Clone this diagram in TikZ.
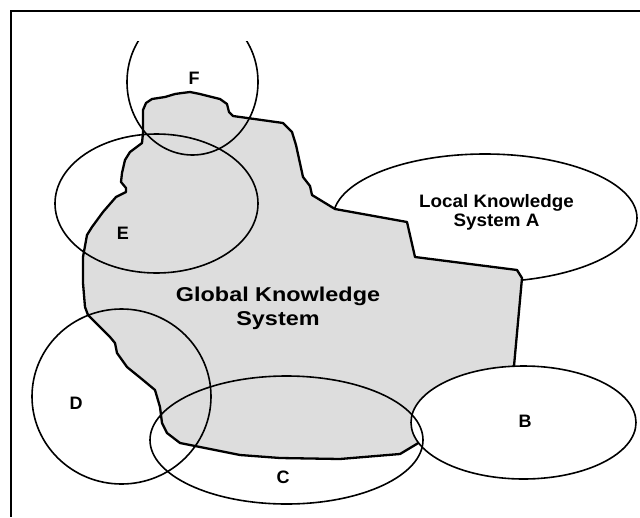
\documentclass[tikz,border=0pt]{standalone}
\usepackage{fontspec}
\setmainfont{Liberation Sans}
\usetikzlibrary{shapes.geometric}
\definecolor{blobgray}{RGB}{221,221,221}
\tikzset{
  ring/.style={draw=black, line width=1.6pt},
  blobline/.style={draw=black, fill=blobgray, line width=2.3pt, line join=round},
  lbl/.style={inner sep=0pt, font=\bfseries\fontsize{18}{18}\selectfont},
  biglbl/.style={inner sep=0pt, align=center, font=\bfseries\fontsize{20}{24}\selectfont},
  midlbl/.style={inner sep=0pt, align=center, font=\bfseries\fontsize{18}{19}\selectfont},
}
\begin{document}
\begin{tikzpicture}[x=1pt,y=-1pt]
\useasboundingbox (0,0) rectangle (640,517);
% frame
\draw[line width=2pt] (10,11) -- (640,11);
\draw[line width=1.2pt] (11,11) -- (11,517);
% Local system A (partly hidden by the blob)
\draw[ring] (485,218) ellipse [x radius=152, y radius=64];
% global knowledge blob
\draw[blobline] (143,133) -- (143,110) -- (146,103) -- (152,99) -- (165,97) -- (175,94) -- (182,93) -- (190,92) -- (200,94) -- (220,99) -- (227,104) -- (229,112) -- (233,116) -- (283,123) -- (292,132) -- (296,145) -- (303,177) -- (310,186) -- (312,195) -- (335,209) -- (407,222) -- (415,257) -- (517,270) -- (522,278) -- (514,366) -- (420,442) -- (400,454) -- (340,459) -- (280,458) -- (240,455) -- (200,447) -- (180,443) -- (167,433) -- (162,423) -- (160,407) -- (155,390) -- (143,380) -- (127,367) -- (117,353) -- (115,343) -- (110,337) -- (88,315) -- (85,307) -- (83,283) -- (83,257) -- (87,235) -- (92,227) -- (103,212) -- (116,197) -- (126,192) -- (126,188) -- (121,182) -- (122,173) -- (125,160) -- (130,152) -- (142,143) -- cycle;
% B
\draw[ring, fill=white] (523.5,422.5) ellipse [x radius=112.5, y radius=56.5];
% C, D, E
\draw[ring] (286.5,440) ellipse [x radius=136.5, y radius=64];
\draw[ring] (121.5,396.5) ellipse [x radius=89.5, y radius=87.5];
\draw[ring] (156.5,203.5) ellipse [x radius=101.5, y radius=69.5];
% F (cut at the top)
\begin{scope}
\clip (0,41) rectangle (640,517);
\draw[ring] (192.5,82) ellipse [x radius=65.5, y radius=73];
\end{scope}
% labels
\node[biglbl] (global) at (278,308.5) {\scalebox{1.17}[1]{Global Knowledge}\\\scalebox{1.17}[1]{System}};
\node[midlbl] (local) at (496.5,212.5) {\scalebox{1.045}[1]{Local Knowledge}\\\scalebox{1.045}[1]{System A}};
\node[lbl] (labF) at (194,78) {F};
\node[lbl] (labE) at (123,233) {E};
\node[lbl] (labD) at (76,403) {D};
\node[lbl] (labC) at (283,477) {C};
\node[lbl] (labB) at (525,421) {B};
\end{tikzpicture}
\end{document}
